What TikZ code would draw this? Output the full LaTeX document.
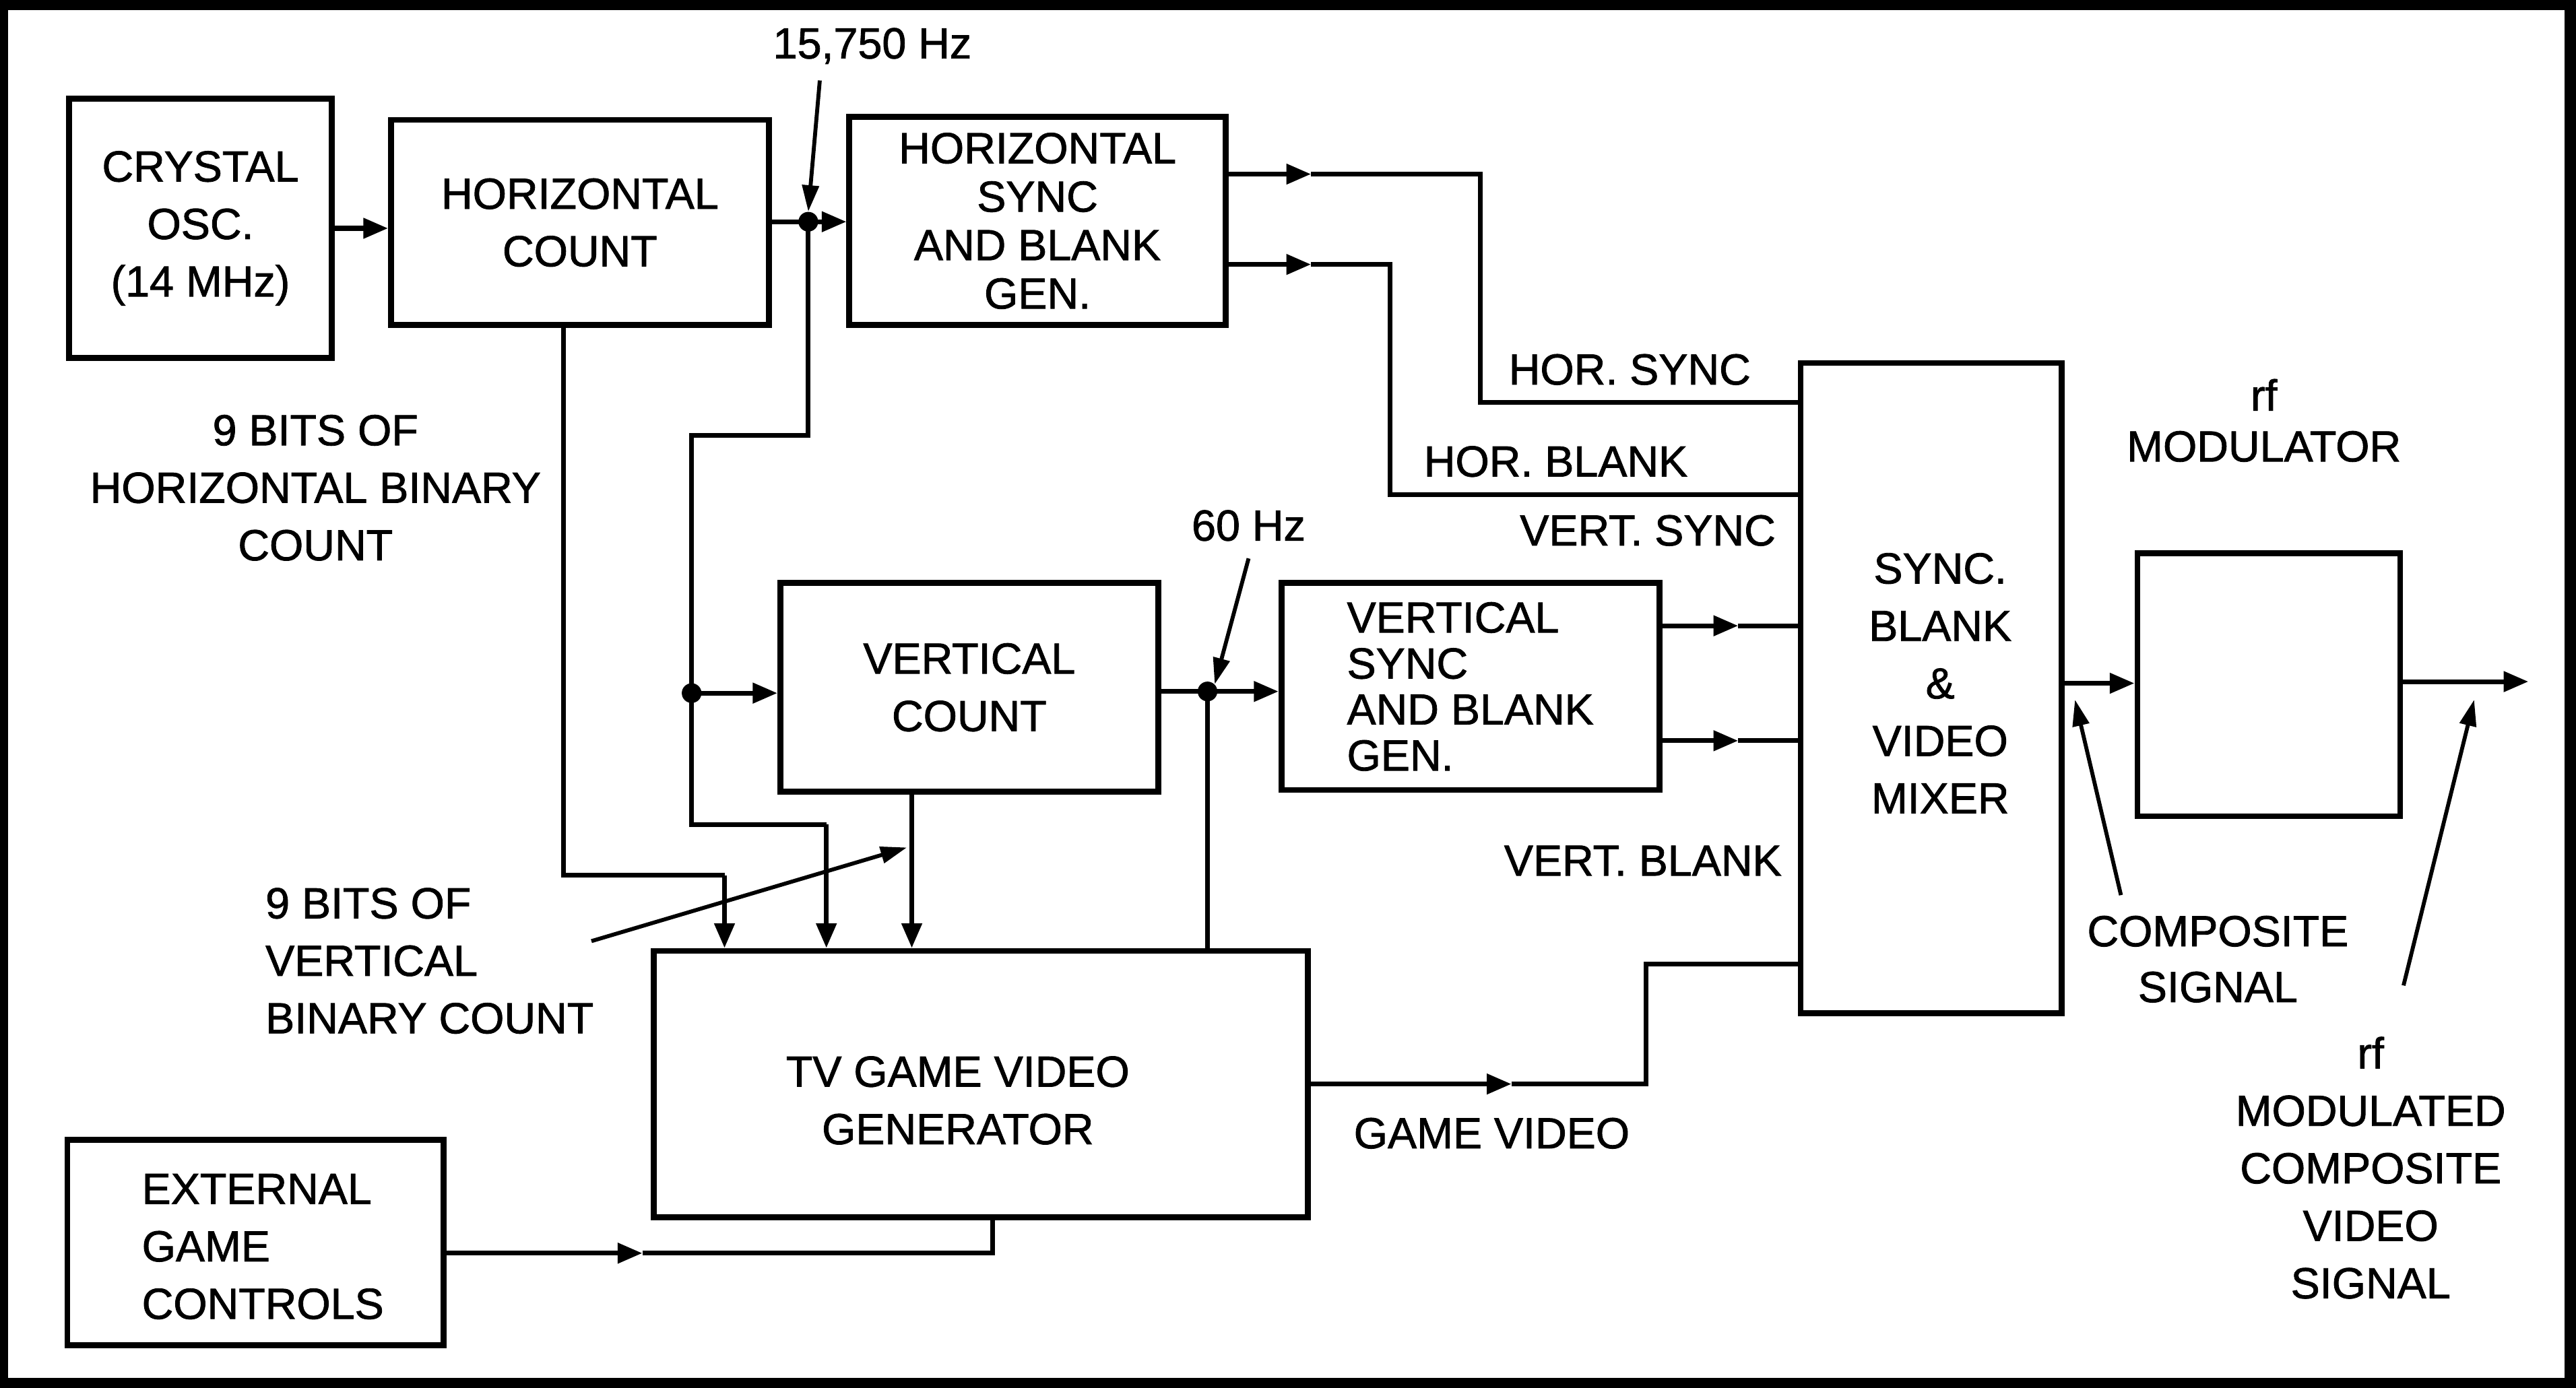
\documentclass[tikz,border=0pt]{standalone}
\usepackage{fontspec}
\setmainfont{Liberation Sans}
\newfontfamily\hvheavy{Liberation Sans}[FakeBold=1.3]
\usetikzlibrary{arrows.meta}
\begin{document}
\begin{tikzpicture}[x=1pt,y=-1pt,
  box/.style={draw, line width=3.6pt, inner sep=0pt, align=center, font=\hvheavy\fontsize{26.5}{35}\selectfont},
  lbl/.style={inner sep=0pt, align=center, font=\hvheavy\fontsize{26.5}{35}\selectfont},
  wire/.style={line width=2.9pt},
  arr/.style={wire, -{Triangle[length=15pt,width=12pt]}},
  pointer/.style={line width=2.4pt, -{Triangle[length=16pt,width=10pt]}},
  jdot/.style={circle, fill, inner sep=0pt, minimum size=12pt}]
% frame
\fill[black] (0,0) rectangle (1568,845);
\fill[white] (5,6) rectangle (1561,839);
\useasboundingbox (0,0) rectangle (1568,845);
% boxes
\node[box, minimum width=160pt, minimum height=158pt] (osc) at (122,139) {CRYSTAL\\OSC.\\(14 MHz)};
\node[box, minimum width=230pt, minimum height=125pt] (hc) at (353,135.5) {HORIZONTAL\\COUNT};
\node[box, minimum width=229pt, minimum height=127pt, font=\hvheavy\fontsize{26.5}{29.5}\selectfont] (hsg) at (631.5,134.5) {HORIZONTAL\\SYNC\\AND BLANK\\GEN.};
\node[box, minimum width=230pt, minimum height=127pt] (vc) at (590,418.5) {VERTICAL\\COUNT};
\node[box, minimum width=230pt, minimum height=126pt, align=left, font=\hvheavy\fontsize{26.5}{28}\selectfont] (vsg) at (895,418) {VERTICAL\\SYNC\\AND BLANK\\GEN.};
\node[box, minimum width=159pt, minimum height=396pt] (mix) at (1175.5,419) {};
\node[lbl] (mixt) at (1181,416) {SYNC.\\BLANK\\\&\\VIDEO\\MIXER};
\node[box, minimum width=160pt, minimum height=160pt] (mod) at (1381,417) {};
\node[box, minimum width=398pt, minimum height=162pt] (tv) at (597,660) {};
\node[lbl] (tvt) at (583,670) {TV GAME VIDEO\\GENERATOR};
\node[box, minimum width=229pt, minimum height=125pt] (ext) at (155.5,756.5) {};
\node[lbl, align=left] (extt) at (160,759) {EXTERNAL\\GAME\\CONTROLS};
% labels
\node[lbl] (f1) at (531,28) {15,750 Hz};
\node[lbl] (hb) at (192,297) {9 BITS OF\\HORIZONTAL BINARY\\COUNT};
\node[lbl] (hs) at (992,225) {HOR. SYNC};
\node[lbl] (hbl) at (947,281) {HOR. BLANK};
\node[lbl] (vs) at (1003,323) {VERT. SYNC};
\node[lbl] (f2) at (760,320) {60 Hz};
\node[lbl, font=\hvheavy\fontsize{26.5}{31}\selectfont] (rfm) at (1378,256) {rf\\MODULATOR};
\node[lbl, align=left] (vb) at (261.5,585) {9 BITS OF\\VERTICAL\\BINARY COUNT};
\node[lbl] (vbl) at (1000,524) {VERT. BLANK};
\node[lbl, font=\hvheavy\fontsize{26.5}{34}\selectfont] (cs) at (1350,584) {COMPOSITE\\SIGNAL};
\node[lbl] (gv) at (908,690) {GAME VIDEO};
\node[lbl] (rfs) at (1443,711) {rf\\MODULATED\\COMPOSITE\\VIDEO\\SIGNAL};
% crystal -> horizontal count
\draw[arr] (osc.east) -- (hc.west |- osc.east);
% horizontal count -> hsg with junction
\coordinate (j1) at (492,135);
\draw[wire] (hc.east |- j1) -- (j1);
\draw[arr] (j1) -- (hsg.west |- j1);
\coordinate (a1) at (492,265);
\coordinate (a2) at (421,265);
\coordinate (j2) at (421,422);
\coordinate (a3) at (421,502);
\coordinate (a4) at (503,502);
\draw[wire] (j1) -- (a1) -- (a2) -- (j2) -- (a3) -- (a4);
\draw[arr] (a4) -- (a4 |- tv.north);
\draw[arr] (j2) -- (vc.west |- j2);
% horizontal count bits
\coordinate (b1) at (343,533);
\coordinate (b2) at (441,533);
\draw[wire] (b1 |- hc.south) -- (b1) -- (b2);
\draw[arr] (b2) -- (b2 |- tv.north);
% vertical count bits
\coordinate (c1) at (555,482);
\draw[arr] (c1 |- vc.south) -- (c1 |- tv.north);
% vertical count -> vsg
\coordinate (j3) at (735,421);
\draw[wire] (vc.east |- j3) -- (j3);
\draw[arr] (j3) -- (vsg.west |- j3);
\draw[wire] (j3) -- (j3 |- tv.north);
% hsg outputs
\coordinate (h1) at (798,106);
\coordinate (h2) at (901,106);
\coordinate (h3) at (901,245);
\draw[arr] (hsg.east |- h1) -- (h1);
\draw[wire] (h1) -- (h2) -- (h3) -- (mix.west |- h3);
\coordinate (g1) at (798,161);
\coordinate (g2) at (846,161);
\coordinate (g3) at (846,301);
\draw[arr] (hsg.east |- g1) -- (g1);
\draw[wire] (g1) -- (g2) -- (g3) -- (mix.west |- g3);
% vsg outputs
\coordinate (v1) at (1058,381);
\draw[arr] (vsg.east |- v1) -- (v1);
\draw[wire] (v1) -- (mix.west |- v1);
\coordinate (v2) at (1058,451);
\draw[arr] (vsg.east |- v2) -- (v2);
\draw[wire] (v2) -- (mix.west |- v2);
% game video
\coordinate (t1) at (920,660);
\coordinate (t2) at (1002,660);
\coordinate (t3) at (1002,587);
\draw[arr] (tv.east |- t1) -- (t1);
\draw[wire] (t1) -- (t2) -- (t3) -- (mix.west |- t3);
% external controls
\coordinate (e1) at (391,763);
\coordinate (e2) at (604,763);
\draw[arr] (ext.east |- e1) -- (e1);
\draw[wire] (e1) -- (e2) -- (e2 |- tv.south);
% mixer -> modulator -> out
\coordinate (m1) at (1280,416);
\draw[arr] (mix.east |- m1) -- (mod.west |- m1);
\coordinate (o1) at (1539,415);
\draw[arr] (mod.east |- o1) -- (o1);
% junction dots
\node[jdot] (d1) at (j1) {};
\node[jdot] (d2) at (j2) {};
\node[jdot] (d3) at (j3) {};
% pointers
\coordinate (q1) at (499,49);
\draw[pointer] (q1) -- (d1.north);
\coordinate (q2) at (760,340);
\draw[pointer] (q2) -- (d3.north east);
\coordinate (p1) at (360,573);
\coordinate (p1t) at (552,516);
\draw[pointer] (p1) -- (p1t);
\coordinate (q3) at (1291,545);
\coordinate (q3t) at (1263,426);
\draw[pointer] (q3) -- (q3t);
\coordinate (q4) at (1463,600);
\coordinate (q4t) at (1506,426);
\draw[pointer] (q4) -- (q4t);
\end{tikzpicture}
\end{document}
